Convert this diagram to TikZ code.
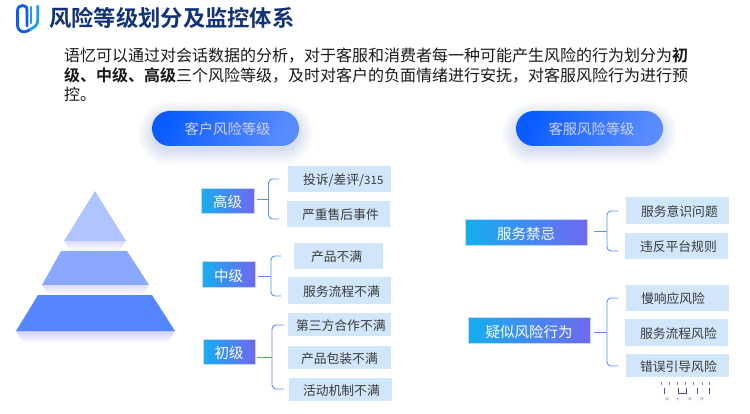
\documentclass[tikz,border=0pt]{standalone}
\usepackage{fontspec}
\setmainfont{Noto Sans CJK SC}
\newfontfamily\cjkb{Noto Sans CJK SC Bold}
\definecolor{itemfill}{HTML}{D1E6FB}
\definecolor{itemtext}{HTML}{3A3A3A}
\definecolor{bracketblue}{HTML}{5B90F2}
\definecolor{titlenavy}{HTML}{123377}
\definecolor{logopurple}{HTML}{4A4AA8}
\definecolor{grada}{HTML}{14AEF0}
\definecolor{gradb}{HTML}{7068F0}
\definecolor{pilla}{HTML}{0A5CFF}
\definecolor{pillb}{HTML}{5A8CFF}
\definecolor{leveledge}{HTML}{C8D8FA}
\definecolor{logoa}{HTML}{0F5CF0}
\definecolor{logob}{HTML}{1E9CF5}
\tikzset{
  x=1pt,y=-1pt,
  itembox/.style={fill=itemfill,inner sep=0pt,text=itemtext,font=\fontsize{12.8}{15}\selectfont},
  levelbox/.style={inner sep=0pt,draw=leveledge,line width=.5pt,text=white,font=\fontsize{14.5}{17}\selectfont},
  bracket/.style={draw=bracketblue,line width=.9pt,rounded corners=4pt},
  pillbox/.style={inner sep=0pt,rounded corners=17.5pt,text=white!82!blue,font=\fontsize{14.3}{17}\selectfont},
  logostroke/.style={line width=2.8pt,line cap=round,line join=round},
  tickmark/.style={draw=logopurple,line width=1pt}
}
\newcommand{\riskentry}[7]{\node[itembox,minimum width={(#4-#2)*1pt},minimum height={(#5-#3)*1pt}] (#1) at ({(#2+#4)/2},{(#3+#5)/2}) {\makebox[{\dimexpr #4pt-#2pt}][l]{\hspace*{#6pt}\raisebox{-1pt}[\height][\depth]{#7}}};}
\newcommand{\risklevel}[6]{%
  \foreach \p in {0,2,...,98}{\pgfmathtruncatemacro{\q}{100-\p}\fill[color=gradb!\p!grada] ({#2+(#4-#2)*\p/100},#3) rectangle (#4,#5);}
  \node[levelbox,minimum width={(#4-#2)*1pt},minimum height={(#5-#3)*1pt}] (#1) at ({(#2+#4)/2},{(#3+#5)/2}) {\raisebox{-1.5pt}[\height][\depth]{#6}};}
\newcommand{\riskpill}[6]{%
  \foreach \g in {14,12,...,0}{\fill[blue!55!cyan!60!black,opacity=.02,rounded corners={(17.5+\g)*1pt}] ({#2-\g},{#3+5-\g}) rectangle ({#4+\g},{#5+5+\g});}
  \node[pillbox,left color=pilla,right color=pillb,shading angle=65,minimum width={(#4-#2)*1pt},minimum height={(#5-#3)*1pt}] (#1) at ({(#2+#4)/2},{(#3+#5)/2}) {\hspace*{4pt}\raisebox{-.5pt}[\height][\depth]{#6}};}
\begin{document}
\begin{tikzpicture}
\useasboundingbox (0,0) rectangle (750,414);
\fill[white] (0,0) rectangle (750,414);

% logo
\draw[logostroke,draw=logoa] (27,26) -- (27,10) .. controls (27,6.5) and (24.5,5.5) .. (22.5,5.5) .. controls (19.5,5.5) and (17.5,7.5) .. (17.5,11) -- (17.5,25) .. controls (17.5,29) and (20,31.8) .. (24,31.8) .. controls (26,31.8) and (28,31) .. (30,29.5);
\draw[logostroke,draw=logob] (30,29.5) .. controls (34,27.5) and (37.8,25.5) .. (37.8,20) -- (37.8,6);
\draw[logostroke,draw=logob,line width=2.2pt] (31,7) -- (31,23);
% title
\node[anchor=west,inner sep=0pt,text=titlenavy,font=\cjkb\fontsize{22.3}{26}\selectfont] (title) at (49,18) {风险等级划分及监控体系};
% intro
\node[anchor=north west,inner sep=0pt,align=left,text=black!90,font=\fontsize{16}{19.5}\selectfont] (intro) at (64,48)
 {语忆可以通过对会话数据的分析，对于客服和消费者每一种可能产生风险的行为划分为{\cjkb 初}\\
  {\cjkb 级、中级、高级}三个风险等级，及时对客户的负面情绪进行安抚，对客服风险行为进行预\\
  控。};

% pills
\riskpill{custpill}{152}{111}{299}{146}{客户风险等级}
\riskpill{servpill}{516}{111}{663}{146}{客服风险等级}

% pyramid
\shade[top color=blue!14!white,bottom color=white] (64,241) -- (126,241) -- (119,251) -- (71,251) -- cycle;
\shade[top color=blue!14!white,bottom color=white] (42,285) -- (149,285) -- (142,295) -- (49,295) -- cycle;
\shade[top color=blue!18!white,bottom color=white] (16,331) -- (175,331) -- (168,343) -- (23,343) -- cycle;
\fill[fill={rgb,255:red,176;green,196;blue,255}] (95,191) -- (126,241) -- (64,241) -- cycle;
\fill[fill={rgb,255:red,138;green,168;blue,255}] (61,251) -- (127,251) -- (149,285) -- (42,285) -- cycle;
\fill[fill={rgb,255:red,85;green,133;blue,255}] (38,295) -- (152,295) -- (175,331) -- (16,331) -- cycle;

% customer levels
\risklevel{high}{201}{188}{254}{213.7}{高级}
\risklevel{mid}{202}{261.7}{255}{287}{中级}
\risklevel{low}{203}{339}{255}{364.7}{初级}
\riskentry{h1}{288}{166}{391}{192}{15}{投诉/差评/{\fontsize{11.5}{15}\selectfont 315}}
\riskentry{h2}{287}{201}{390}{227}{15}{严重售后事件}
\riskentry{m1}{294}{243}{383}{269}{17}{产品不满}
\riskentry{m2}{288}{277}{391}{304}{15}{服务流程不满}
\riskentry{l1}{288}{313}{391}{336}{8}{第三方合作不满}
\riskentry{l2}{288}{346}{391}{369}{13}{产品包装不满}
\riskentry{l3}{289}{378}{392}{401}{14}{活动机制不满}

% service levels
\risklevel{ban}{465}{219}{587}{245}{服务禁忌}
\risklevel{sus}{468}{317}{590}{343}{疑似风险行为}
\riskentry{b1}{626}{197}{729}{224}{15}{服务意识问题}
\riskentry{b2}{625}{233}{728}{259}{15}{违反平台规则}
\riskentry{s1}{626}{285}{729}{311}{15}{慢响应风险}
\riskentry{s2}{625}{319}{728}{346}{15}{服务流程风险}
\riskentry{s3}{626}{354}{729}{377}{14}{错误引导风险}

% bracket joints and tips
\coordinate (jh) at (268.5,199);
\coordinate (th1) at (279,179);
\coordinate (th2) at (279,219);
\coordinate (jm) at (271,276);
\coordinate (tm1) at (281,256);
\coordinate (tm2) at (281,296);
\coordinate (jl) at (272,357);
\coordinate (tl1) at (284,325);
\coordinate (tl3) at (284,389);
\coordinate (jb) at (607,231);
\coordinate (tb1) at (618,211);
\coordinate (tb2) at (618,251);
\coordinate (js) at (607,332);
\coordinate (ts1) at (618,298);
\coordinate (ts3) at (618,366);

\draw[bracket] ([xshift=3pt]high.east |- jh) -- (jh);
\draw[bracket] (jh) |- (th1);
\draw[bracket] (jh) |- (th2);
\draw[bracket] ([xshift=3pt]mid.east |- jm) -- (jm);
\draw[bracket] (jm) |- (tm1);
\draw[bracket] (jm) |- (tm2);
\draw[bracket] ([xshift=2pt]low.east |- jl) -- (jl);
\draw[bracket] (jl) |- (tl1);
\draw[bracket] (jl) |- (tl3);
\draw[bracket] ([xshift=7pt]ban.east |- jb) -- (jb);
\draw[bracket] (jb) |- (tb1);
\draw[bracket] (jb) |- (tb2);
\draw[bracket] ([xshift=4pt]sus.east |- js) -- (js);
\draw[bracket] (js) |- (ts1);
\draw[bracket] (js) |- (ts3);

% bottom-right mark
\foreach \x in {661,668.5,677,685,693,702,708.5}{\fill[logopurple!70!white] (\x,381.5) rectangle (\x+1.2,384.5);}
\draw[tickmark] (664,388) -- (664,394);
\draw[tickmark] (678,388) -- (678,393.5) -- (686,393.5) -- (686,388);
\draw[tickmark] (697,388) -- (697,394);
\draw[tickmark] (709,388) -- (709,394);
\foreach \x/\c in {667/语,678/忆,690/科,702/技}{\node[inner sep=0pt,text=logopurple!80!white,font=\fontsize{3.5}{4}\selectfont] (mark\c) at (\x,399) {\c};}
\end{tikzpicture}
\end{document}
